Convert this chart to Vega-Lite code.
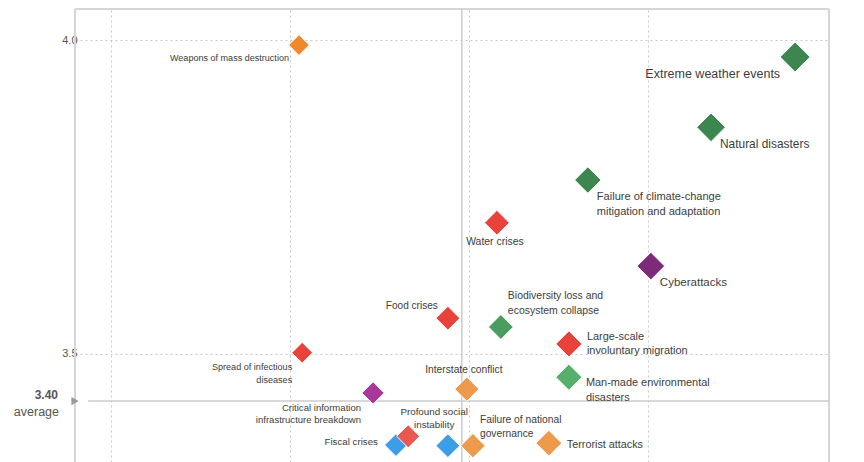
{
  "$schema": "https://vega.github.io/schema/vega-lite/v6.json",
  "width": 754,
  "height": 453,
  "autosize": {"type": "none"},
  "padding": {"left": 75, "right": 35, "top": 9, "bottom": 0},
  "background": "white",
  "config": {
    "view": {"stroke": null},
    "font": "Liberation Sans",
    "text": {"lineBreak": "\n", "color": "#3d3d3d", "font": "Liberation Sans", "baseline": "middle"}
  },
  "datasets": {
    "risks": [
      {"risk": "Weapons of mass destruction", "label": "Weapons of mass destruction", "category": "Geopolitical", "likelihood": 3.025, "impact": 3.992},
      {"risk": "Extreme weather events", "label": "Extreme weather events", "category": "Environmental", "likelihood": 4.411, "impact": 3.973},
      {"risk": "Natural disasters", "label": "Natural disasters", "category": "Environmental", "likelihood": 4.176, "impact": 3.861},
      {"risk": "Failure of climate-change mitigation and adaptation", "label": "Failure of climate-change\nmitigation and adaptation", "category": "Environmental", "likelihood": 3.832, "impact": 3.777},
      {"risk": "Water crises", "label": "Water crises", "category": "Societal", "likelihood": 3.578, "impact": 3.709},
      {"risk": "Cyberattacks", "label": "Cyberattacks", "category": "Technological", "likelihood": 4.008, "impact": 3.64},
      {"risk": "Food crises", "label": "Food crises", "category": "Societal", "likelihood": 3.441, "impact": 3.557},
      {"risk": "Biodiversity loss and ecosystem collapse", "label": "Biodiversity loss and\necosystem collapse", "category": "Environmental", "likelihood": 3.589, "impact": 3.543},
      {"risk": "Large-scale involuntary migration", "label": "Large-scale\ninvoluntary migration", "category": "Societal", "likelihood": 3.779, "impact": 3.516},
      {"risk": "Spread of infectious diseases", "label": "Spread of infectious\ndiseases", "category": "Societal", "likelihood": 3.034, "impact": 3.502},
      {"risk": "Man-made environmental disasters", "label": "Man-made environmental\ndisasters", "category": "Environmental", "likelihood": 3.779, "impact": 3.463},
      {"risk": "Critical information infrastructure breakdown", "label": "Critical information\ninfrastructure breakdown", "category": "Technological", "likelihood": 3.232, "impact": 3.438},
      {"risk": "Interstate conflict", "label": "Interstate conflict", "category": "Geopolitical", "likelihood": 3.494, "impact": 3.444},
      {"risk": "Fiscal crises", "label": "Fiscal crises", "category": "Economic", "likelihood": 3.296, "impact": 3.355},
      {"risk": "Profound social instability", "label": "Profound social\ninstability", "category": "Societal", "likelihood": 3.33, "impact": 3.369},
      {"risk": "Unemployment or underemployment", "label": "Unemployment or underemployment", "category": "Economic", "likelihood": 3.441, "impact": 3.354},
      {"risk": "Failure of national governance", "label": "Failure of national\ngovernance", "category": "Geopolitical", "likelihood": 3.511, "impact": 3.354},
      {"risk": "Terrorist attacks", "label": "Terrorist attacks", "category": "Geopolitical", "likelihood": 3.723, "impact": 3.358}
    ],
    "average": [
      {"likelihood": 3.48, "impact": 3.425, "value": "3.40", "word": "average"}
    ]
  },
  "resolve": {"scale": {"size": "independent"}},
  "layer": [
    {
      "data": {"name": "risks"},
      "mark": {"type": "point", "opacity": 0},
      "encoding": {
        "x": {"field": "likelihood", "type": "quantitative", "scale": {"domain": [2.3994, 4.5056], "nice": false, "zero": false},
          "axis": {"orient": "top", "values": [2.5, 3.0, 3.5, 4.0], "labels": false, "ticks": false, "title": null, "domain": false, "grid": true, "gridColor": "#c8c8c8", "gridDash": [2, 3], "gridWidth": 1}},
        "y": {"field": "impact", "type": "quantitative", "scale": {"domain": [3.328, 4.0494], "nice": false, "zero": false},
          "axis": {"orient": "left", "values": [3.5, 4.0], "format": ".1f", "title": null, "ticks": false, "tickSize": 0, "labelPadding": -2, "labelFontSize": 11, "labelColor": "#555555", "labelFont": "Liberation Sans", "domain": false, "grid": true, "gridColor": "#c8c8c8", "gridDash": [2, 3], "gridWidth": 1}}
      }
    },
    {
      "data": {"name": "average"},
      "mark": {"type": "rule", "color": "#d6d6d6", "strokeWidth": 2},
      "encoding": {"y": {"datum": 4.0494}}
    },
    {
      "data": {"name": "average"},
      "mark": {"type": "rule", "color": "#d6d6d6", "strokeWidth": 2},
      "encoding": {"x": {"datum": 2.3994}}
    },
    {
      "data": {"name": "average"},
      "mark": {"type": "rule", "color": "#d6d6d6", "strokeWidth": 2},
      "encoding": {"x": {"datum": 4.5056}}
    },
    {
      "data": {"name": "average"},
      "mark": {"type": "rule", "color": "#cbcbcb", "strokeWidth": 1.5},
      "encoding": {
        "x": {"field": "likelihood", "type": "quantitative"}
      }
    },
    {
      "data": {"name": "average"},
      "mark": {"type": "rule", "color": "#cbcbcb", "strokeWidth": 1.5},
      "encoding": {
        "y": {"field": "impact", "type": "quantitative"},
        "x": {"datum": 2.436},
        "x2": {"datum": 4.5056}
      }
    },
    {
      "data": {"name": "average"},
      "mark": {"type": "point", "shape": "triangle-right", "filled": true, "color": "#9a9a9a", "opacity": 1, "size": 70},
      "encoding": {
        "y": {"field": "impact", "type": "quantitative"},
        "x": {"datum": 2.3994}
      }
    },
    {
      "data": {"name": "average"},
      "mark": {"type": "text", "align": "right", "dx": -17, "dy": -6, "fontSize": 12, "fontWeight": "bold", "color": "#555555"},
      "encoding": {
        "y": {"field": "impact", "type": "quantitative"},
        "x": {"datum": 2.3994},
        "text": {"field": "value"}
      }
    },
    {
      "data": {"name": "average"},
      "mark": {"type": "text", "align": "right", "dx": -16, "dy": 11, "fontSize": 12.5, "color": "#555555"},
      "encoding": {
        "y": {"field": "impact", "type": "quantitative"},
        "x": {"datum": 2.3994},
        "text": {"field": "word"}
      }
    },
    {
      "data": {"name": "risks"},
      "mark": {"type": "point", "shape": "diamond", "filled": true, "opacity": 1, "stroke": "white", "strokeWidth": 1},
      "encoding": {
        "x": {"field": "likelihood", "type": "quantitative"},
        "y": {"field": "impact", "type": "quantitative"},
        "size": {"field": "likelihood", "type": "quantitative", "scale": {"domain": [3.0, 4.41], "range": [420, 900], "zero": false}, "legend": null},
        "color": {"field": "risk", "type": "nominal", "legend": null,
          "scale": {
            "domain": ["Weapons of mass destruction", "Extreme weather events", "Natural disasters", "Failure of climate-change mitigation and adaptation", "Water crises", "Cyberattacks", "Food crises", "Biodiversity loss and ecosystem collapse", "Large-scale involuntary migration", "Spread of infectious diseases", "Man-made environmental disasters", "Critical information infrastructure breakdown", "Interstate conflict", "Fiscal crises", "Profound social instability", "Unemployment or underemployment", "Failure of national governance", "Terrorist attacks"],
            "range": ["#f0892e", "#3d8650", "#3d8650", "#3d8650", "#e8423a", "#7d2a78", "#e8423a", "#4a9d5e", "#e8423a", "#e8423a", "#55b06c", "#a8399a", "#ed9a4c", "#3c9ee6", "#e9594f", "#3c9ee6", "#ed9a4c", "#ed9a4c"]
          }}
      }
    },
    {
      "data": {"name": "risks"},
      "encoding": {
        "x": {"field": "likelihood", "type": "quantitative"},
        "y": {"field": "impact", "type": "quantitative"},
        "text": {"field": "label"},
        "size": {"field": "likelihood", "type": "quantitative", "scale": {"domain": [3.0, 4.41], "range": [9, 12.5], "zero": false}, "legend": null}
      },
      "layer": [
        {"transform": [{"filter": {"field": "risk", "oneOf": ["Weapons of mass destruction"]}}], "mark": {"type": "text", "align": "right", "dx": -10, "dy": 13}},
        {"transform": [{"filter": {"field": "risk", "oneOf": ["Extreme weather events"]}}], "mark": {"type": "text", "align": "right", "dx": -15, "dy": 17}},
        {"transform": [{"filter": {"field": "risk", "oneOf": ["Natural disasters", "Cyberattacks"]}}], "mark": {"type": "text", "align": "left", "dx": 9, "dy": 17}},
        {"transform": [{"filter": {"field": "risk", "oneOf": ["Failure of climate-change mitigation and adaptation"]}}], "mark": {"type": "text", "align": "left", "dx": 9, "dy": 17, "lineHeight": 15}},
        {"transform": [{"filter": {"field": "risk", "oneOf": ["Water crises"]}}], "mark": {"type": "text", "align": "center", "dx": -2, "dy": 19}},
        {"transform": [{"filter": {"field": "risk", "oneOf": ["Food crises"]}}], "mark": {"type": "text", "align": "right", "dx": -10, "dy": -12}},
        {"transform": [{"filter": {"field": "risk", "oneOf": ["Biodiversity loss and ecosystem collapse"]}}], "mark": {"type": "text", "align": "left", "dx": 7, "dy": -31, "lineHeight": 15}},
        {"transform": [{"filter": {"field": "risk", "oneOf": ["Large-scale involuntary migration"]}}], "mark": {"type": "text", "align": "left", "dx": 18, "dy": -7, "lineHeight": 14}},
        {"transform": [{"filter": {"field": "risk", "oneOf": ["Spread of infectious diseases"]}}], "mark": {"type": "text", "align": "right", "dx": -10, "dy": 14, "lineHeight": 13}},
        {"transform": [{"filter": {"field": "risk", "oneOf": ["Man-made environmental disasters"]}}], "mark": {"type": "text", "align": "left", "dx": 17, "dy": 6, "lineHeight": 15}},
        {"transform": [{"filter": {"field": "risk", "oneOf": ["Critical information infrastructure breakdown"]}}], "mark": {"type": "text", "align": "right", "dx": -12, "dy": 15, "lineHeight": 12.5}},
        {"transform": [{"filter": {"field": "risk", "oneOf": ["Interstate conflict"]}}], "mark": {"type": "text", "align": "center", "dx": -3, "dy": -19}},
        {"transform": [{"filter": {"field": "risk", "oneOf": ["Profound social instability"]}}], "mark": {"type": "text", "align": "center", "dx": 26, "dy": -24, "lineHeight": 13}},
        {"transform": [{"filter": {"field": "risk", "oneOf": ["Fiscal crises"]}}], "mark": {"type": "text", "align": "right", "dx": -18, "dy": -3}},
        {"transform": [{"filter": {"field": "risk", "oneOf": ["Failure of national governance"]}}], "mark": {"type": "text", "align": "left", "dx": 7, "dy": -26, "lineHeight": 14}},
        {"transform": [{"filter": {"field": "risk", "oneOf": ["Terrorist attacks"]}}], "mark": {"type": "text", "align": "left", "dx": 18, "dy": 2}}
      ]
    }
  ]
}
